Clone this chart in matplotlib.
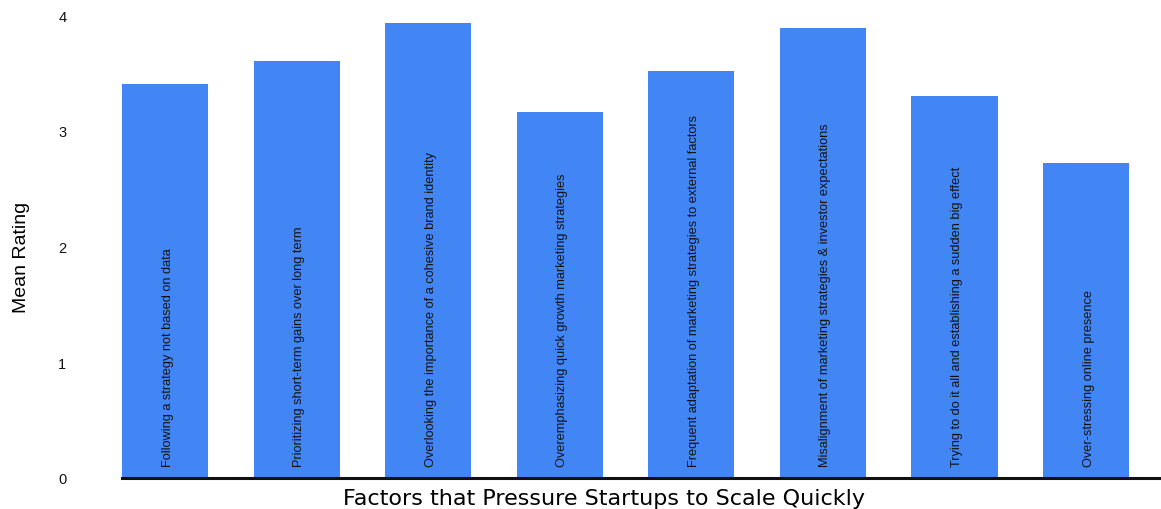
import matplotlib
matplotlib.use("Agg")
import matplotlib.pyplot as plt
from matplotlib import font_manager

factors = [
    "Following a strategy not based on data",
    "Prioritizing short-term gains over long term",
    "Overlooking the importance of a cohesive brand identity",
    "Overemphasizing quick growth marketing strategies",
    "Frequent adaptation of marketing strategies to external factors",
    "Misalignment of marketing strategies & investor expectations",
    "Trying to do it all and establishing a sudden big effect",
    "Over-stressing online presence",
]
mean_rating = [3.40, 3.60, 3.93, 3.16, 3.52, 3.89, 3.30, 2.72]
y_ticks = [0, 1, 2, 3, 4]

plt.rcParams["font.family"] = ["Liberation Sans", "DejaVu Sans"]

installed = {f.name for f in font_manager.fontManager.ttflist}
if "Liberation Sans Narrow" in installed:
    bar_font = dict(family=["Liberation Sans Narrow", "DejaVu Sans"], fontsize=11)
else:
    bar_font = dict(fontsize=9.2)

fig = plt.figure(figsize=(11.61, 5.10), dpi=100)
W, H = 1161, 510
ax = fig.add_axes([122 / W, 1 - 479 / H, (1161 - 122) / W, (479 - 16) / H])

x = list(range(len(factors)))
ax.bar(x, mean_rating, width=0.655, color="#4285F4", zorder=2)

# category names written vertically inside each bar
for xi, label in zip(x, factors):
    ax.text(xi + 0.02, 0.10, label, rotation=90, ha="center", va="bottom",
            color="#111111", zorder=3, **bar_font)

ax.set_xlim(-0.327, 7.57)
ax.set_ylim(0, 4)
ax.set_yticks(y_ticks)
ax.set_yticklabels([str(t) for t in y_ticks], fontsize=10.5, color="#111111")
ax.set_xticks([])
ax.tick_params(axis="y", length=0, pad=40)
for side in ["top", "right", "left"]:
    ax.spines[side].set_visible(False)
ax.spines["bottom"].set_linewidth(2.2)
ax.spines["bottom"].set_color("#111111")

ax.set_xlabel("Factors that Pressure Startups to Scale Quickly",
              family=["DejaVu Sans"], fontsize=16, labelpad=7)
ax.xaxis.label.set_position(((604 - 122) / 1039, 0))
fig.text(22 / W, 1 - 257 / H, "Mean Rating", rotation=90, ha="center",
         va="center", fontsize=14)

fig.savefig("out.png", dpi=100)
